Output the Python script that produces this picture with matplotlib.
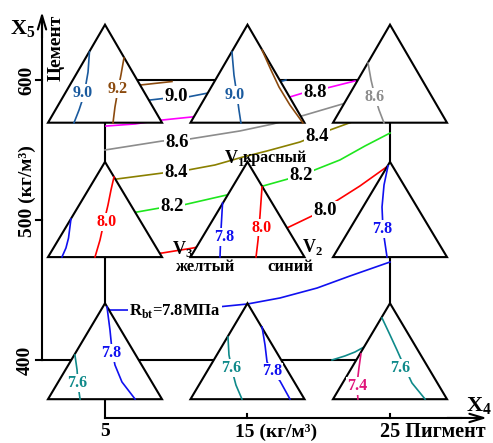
import matplotlib
matplotlib.use("Agg")
import matplotlib.pyplot as plt
from matplotlib.patches import Polygon

plt.rcParams['font.family'] = ['Liberation Serif', 'DejaVu Serif']
plt.rcParams['font.weight'] = 'bold'

# factor levels: pigment X4 (kg/m3) and cement X5 (kg/m3)
pigment_levels = [5, 15, 25]
cement_levels = [400, 500, 600]

# triangle (mixture simplex) apex / base heights for each cement level
tri_apex = {600: 639.5, 500: 541.5, 400: 440.5}
tri_base = {600: 569.5, 500: 473.5, 400: 372.0}
tri_half = 4.0

# isolines of strength between the simplexes (x = pigment, y = cement)
iso92_x = [6.75, 7.46, 9.70]
iso92_y = [595.7, 596.4, 598.9]
iso90_x = [7.46, 8.16, 9.35, 10.82, 12.23, 17.21, 17.70]
iso90_y = [585.0, 585.7, 587.1, 587.9, 590.7, 598.6, 600.0]
iso88_x = [5.07, 7.11, 9.00, 11.11, 17.98, 18.89, 20.58, 22.54]
iso88_y = [567.1, 568.6, 571.4, 573.6, 587.9, 590.7, 594.3, 599.3]
iso86_x = [5.00, 9.00, 10.96, 14.47, 16.79, 19.04, 21.91, 23.25]
iso86_y = [550.0, 556.4, 557.9, 563.6, 568.6, 575.0, 583.6, 587.9]
iso84_x = [5.00, 5.84, 9.07, 10.82, 12.72, 14.68, 16.37, 18.68, 20.79, 22.33]
iso84_y = [527.1, 529.3, 533.6, 535.7, 539.3, 545.0, 549.3, 555.7, 564.3, 570.0]
iso82_x = [5.00, 7.25, 8.86, 10.47, 13.56, 16.09, 17.84, 19.53, 21.49, 23.25, 25.00]
iso82_y = [502.9, 505.7, 508.6, 510.7, 517.9, 524.3, 529.3, 535.0, 542.9, 552.9, 562.1]
iso80_x = [5.00, 9.00, 11.18, 17.77, 19.53, 21.00, 22.89, 24.86]
iso80_y = [473.6, 476.4, 480.0, 494.3, 502.9, 512.1, 524.3, 538.6]
iso78_x = [5.14, 5.35, 6.96, 12.93, 15.00, 17.28, 19.88, 22.19, 25.00]
iso78_y = [437.1, 435.7, 435.7, 437.9, 440.0, 444.3, 451.4, 460.0, 470.0]
iso76_x = [20.93, 21.84, 22.54, 23.18]
iso76_y = [400.0, 402.9, 405.7, 409.3]

outer_values = ["9.0", "8.8", "8.6", "8.4", "8.4", "8.2", "8.2", "8.0"]
outer_lx = [9.98, 19.74, 10.05, 9.98, 19.88, 9.70, 18.75, 20.44]
outer_ly = [587.9, 591.4, 555.0, 533.6, 559.3, 509.3, 532.1, 507.1]

# isolines inside the simplexes
tl90_x, tl90_y = [3.91, 3.81, 3.53, 3.18, 2.82], [620.0, 605.7, 589.3, 578.6, 569.3]
tl92_x, tl92_y = [6.33, 6.12, 5.91, 5.70, 5.56], [615.7, 603.6, 592.9, 580.7, 569.3]
tc90_x, tc90_y = [13.91, 14.05, 14.26, 14.40, 14.54], [620.0, 603.6, 589.3, 578.6, 569.3]
tc92_x, tc92_y = [16.02, 16.65, 17.21, 17.98, 18.89], [621.4, 607.1, 595.0, 582.1, 569.3]
tr86_x, tr86_y = [23.46, 23.67, 23.95, 24.23, 24.58], [612.1, 600.0, 587.9, 578.6, 569.3]
ml78_x, ml78_y = [2.61, 2.44, 2.26, 1.98], [500.7, 487.1, 480.0, 473.6]
ml80_x, ml80_y = [5.63, 5.42, 5.21, 4.93, 4.65, 4.30], [530.7, 521.4, 510.7, 498.6, 485.7, 473.6]
mc78_x, mc78_y = [13.25, 13.14, 13.07], [512.1, 492.9, 473.6]
mc80_x, mc80_y = [16.02, 15.88, 15.74, 15.60], [523.6, 503.6, 485.7, 473.6]
mr78_x, mr78_y = [24.86, 24.58, 24.44, 24.51, 24.79], [538.6, 525.0, 509.3, 492.9, 473.6]
bl78_x, bl78_y = [5.14, 5.35, 5.49, 5.70, 6.19, 7.11], [437.9, 421.4, 407.1, 396.4, 384.3, 372.1]
bl76_x, bl76_y = [2.89, 3.04, 3.11, 3.25], [403.6, 392.9, 382.1, 372.1]
bc76_x, bc76_y = [13.63, 13.70, 13.91, 14.19, 14.61], [416.4, 403.6, 392.9, 382.1, 372.1]
bc78_x, bc78_y = [16.02, 16.23, 16.37, 16.79, 17.28, 17.98], [423.6, 410.7, 398.6, 391.4, 385.0, 372.1]
br74_x, br74_y = [22.96, 22.82, 22.68, 22.75], [404.3, 394.3, 382.1, 372.1]
br76_x, br76_y = [24.44, 25.00, 25.49, 26.05, 26.54, 27.46], [430.0, 417.9, 407.1, 394.3, 383.6, 372.1]

inner_values = ["9.0", "9.2", "9.0", "8.6", "8.0", "7.8", "8.0", "7.8",
                "7.8", "7.6", "7.6", "7.8", "7.4", "7.6"]
inner_lx = [3.46, 5.91, 14.12, 23.95, 5.14, 13.35, 16.02, 24.47,
            5.42, 3.04, 13.84, 16.72, 22.68, 25.74]
inner_ly = [590.7, 593.6, 589.3, 587.9, 498.6, 487.9, 494.6, 493.6,
            405.0, 383.6, 394.3, 391.8, 381.4, 394.3]

C90 = '#1a5a9e'
C92 = '#8b4a0e'
C88 = '#ff00ff'
C86 = '#8c8c8c'
C84 = '#8a8000'
C82 = '#1ee61e'
C80 = '#ff0000'
C78 = '#1010f0'
C76 = '#0f8a8a'
C74 = '#e0157a'
inner_colors = [C90, C92, C90, C86, C80, C78, C80, C78, C78, C76, C76, C78, C74, C76]

fig = plt.figure(figsize=(4.93, 4.43), dpi=100)
ax = fig.add_axes([0, 0, 1, 1])
ax.set_xlim(-2.368, 32.228)
ax.set_ylim(340.71, 657.14)
ax.axis('off')

lw_line = 1.2
# isolines between the simplexes (partly hidden by the white triangles)
for xs, ys, c in [(iso92_x, iso92_y, C92), (iso90_x, iso90_y, C90),
                  (iso88_x, iso88_y, C88), (iso86_x, iso86_y, C86),
                  (iso84_x, iso84_y, C84), (iso82_x, iso82_y, C82),
                  (iso80_x, iso80_y, C80), (iso78_x, iso78_y, C78),
                  (iso76_x, iso76_y, C76)]:
    ax.plot(xs, ys, color=c, lw=lw_line, zorder=2)

# frame of the factor plan
k = dict(color='black', lw=1.5, zorder=1)
ax.plot([5, 25], [600, 600], **k)
ax.plot([5, 5], [358.6, 600], **k)
ax.plot([25, 25], [400, 600], **k)
ax.plot([0.58, 25], [400, 400], **k)
ax.plot([0.58, 0.58], [400, 640], **k)
ax.plot([5, 30], [358.6, 358.6], **k)
for yv in cement_levels:
    ax.plot([0.16, 0.58], [yv, yv], **k)
for xv in pigment_levels[1:]:
    ax.plot([xv, xv], [358.6, 361.6], **k)
ax.annotate('', xy=(0.58, 648.6), xytext=(0.58, 630),
            arrowprops=dict(arrowstyle='->,head_length=1.0,head_width=0.3',
                            lw=1.5, shrinkA=0, shrinkB=0), zorder=7)
ax.annotate('', xy=(31.8, 358.6), xytext=(29, 358.6),
            arrowprops=dict(arrowstyle='->,head_length=1.0,head_width=0.3',
                            lw=1.5, shrinkA=0, shrinkB=0))

# simplex triangles at every node
for cy in cement_levels:
    for px in pigment_levels:
        tri = Polygon([(px - tri_half, tri_base[cy]), (px + tri_half, tri_base[cy]),
                       (px, tri_apex[cy])], closed=True, fc='white', ec='black',
                      lw=1.5, zorder=3)
        ax.add_patch(tri)

for xs, ys, c in [(tl90_x, tl90_y, C90), (tl92_x, tl92_y, C92),
                  (tc90_x, tc90_y, C90), (tc92_x, tc92_y, C92),
                  (tr86_x, tr86_y, C86), (ml78_x, ml78_y, C78),
                  (ml80_x, ml80_y, C80), (mc78_x, mc78_y, C78),
                  (mc80_x, mc80_y, C80), (mr78_x, mr78_y, C78),
                  (bl78_x, bl78_y, C78), (bl76_x, bl76_y, C76),
                  (bc76_x, bc76_y, C76), (bc78_x, bc78_y, C78),
                  (br74_x, br74_y, C74), (br76_x, br76_y, C76)]:
    ax.plot(xs, ys, color=c, lw=lw_line, zorder=4)

wbox = dict(boxstyle='square,pad=0.05', fc='white', ec='none')
for v, x, y in zip(outer_values, outer_lx, outer_ly):
    ax.text(x, y, v, fontsize=13.5, ha='center', va='center', bbox=wbox, zorder=6)
ax.text(9.91, 434.8, r'R$_\mathregular{bt}$=7.8МПа', fontsize=12, ha='center',
        va='center', bbox=wbox, zorder=6)
for v, x, y, c in zip(inner_values, inner_lx, inner_ly, inner_colors):
    ax.text(x, y, v, fontsize=11.5, color=c, ha='center', va='center',
            bbox=wbox, zorder=6)

# simplex vertex names
ax.text(13.35, 540.5, r'V$_\mathregular{1}$', fontsize=13, ha='left',
        va='baseline', zorder=6)
ax.text(14.65, 541.5, 'красный', fontsize=11.5, ha='left',
        va='baseline', zorder=6)
ax.text(9.70, 475.5, r'V$_\mathregular{3}$', fontsize=13, ha='left',
        va='baseline', zorder=6)
ax.text(18.82, 476.8, r'V$_\mathregular{2}$', fontsize=13, ha='left',
        va='baseline', zorder=6)
ax.text(12.09, 466.4, 'желтый', fontsize=12, ha='center', va='center', zorder=6)
ax.text(18.02, 466.4, 'синий', fontsize=12, ha='center', va='center', zorder=6)

# axis annotations
ax.text(-1.65, 632.5, r'X$_\mathregular{5}$', fontsize=16, ha='left', va='baseline')
ax.text(1.56, 623.2, 'Цемент', fontsize=14, rotation=90, ha='center', va='center')
ax.text(-0.47, 600, '600', fontsize=14, rotation=90, ha='center', va='center')
ax.text(-0.44, 488.0, '500 (кг/м³)', fontsize=14, rotation=90, ha='center', va='bottom')
ax.text(-0.58, 400, '400', fontsize=14, rotation=90, ha='center', va='center')
ax.text(5, 348.6, '5', fontsize=14, ha='center', va='center')
ax.text(14.12, 348.6, '15 (кг/м³)', fontsize=14, ha='left', va='center')
ax.text(24.30, 348.6, '25 Пигмент', fontsize=14.5, ha='left', va='center')
ax.text(30.3, 363.3, r'X$_\mathregular{4}$', fontsize=16, ha='left', va='baseline')

fig.savefig('out.png', dpi=100)
